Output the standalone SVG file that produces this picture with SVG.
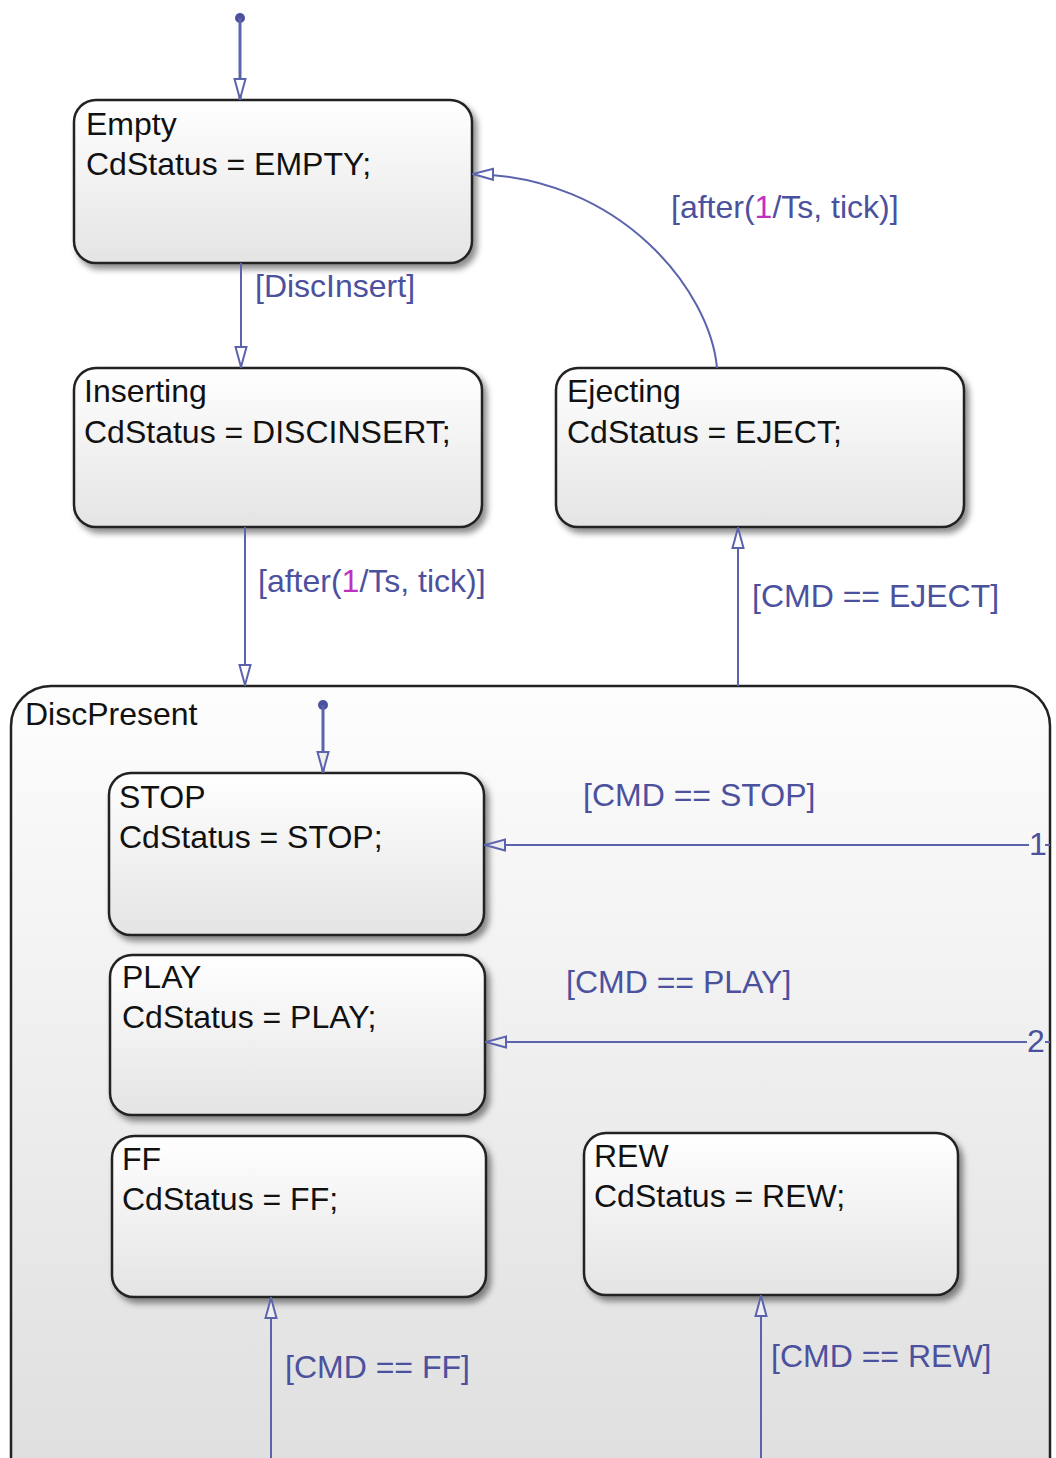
<svg xmlns="http://www.w3.org/2000/svg" width="1056" height="1458" viewBox="0 0 1056 1458">
<defs>
  <linearGradient id="boxGrad" x1="0" y1="0" x2="0" y2="1">
    <stop offset="0" stop-color="#ffffff"/>
    <stop offset="1" stop-color="#e4e4e4"/>
  </linearGradient>
  <linearGradient id="bigGrad" x1="0" y1="0" x2="0" y2="1">
    <stop offset="0" stop-color="#fdfdfd"/>
    <stop offset="1" stop-color="#dcdcdc"/>
  </linearGradient>
  <filter id="shadow" x="-10%" y="-10%" width="125%" height="130%">
    <feDropShadow dx="4" dy="5" stdDeviation="3" flood-color="#000" flood-opacity="0.45"/>
  </filter>
  <marker id="arrW" viewBox="0 0 22 14" refX="22" refY="7" markerWidth="22" markerHeight="14" markerUnits="userSpaceOnUse" orient="auto">
    <path d="M1,1.5 L21,7 L1,12.5 Z" fill="#ffffff" stroke="#5b63ad" stroke-width="2"/>
  </marker>
  <marker id="arrG" viewBox="0 0 22 14" refX="22" refY="7" markerWidth="22" markerHeight="14" markerUnits="userSpaceOnUse" orient="auto">
    <path d="M1,1.5 L21,7 L1,12.5 Z" fill="#efefef" stroke="#5b63ad" stroke-width="2"/>
  </marker>
</defs>
<style>
  .box { fill: url(#boxGrad); stroke: #222; stroke-width: 2.5; filter: url(#shadow); }
  .big { fill: url(#bigGrad); stroke: #222; stroke-width: 2.5; }
  .st { font-family: "Liberation Sans", Arial, sans-serif; font-size: 32px; fill: #111; }
  .lb { font-family: "Liberation Sans", Arial, sans-serif; font-size: 32px; fill: #4c519e; }
  .num { fill: #c030c0; }
  .ln { fill: none; stroke: #5b63ad; stroke-width: 2; }
  .init { fill: none; stroke: #5b63ad; stroke-width: 3; }
  .dot { fill: #4c519e; }
</style>
<rect width="1056" height="1458" fill="#ffffff"/>

<g id="DiscPresent">
  <rect class="big" x="11" y="686" width="1039" height="860" rx="40" ry="40"/>
  <text class="st" x="25" y="725">DiscPresent</text>
</g>

<g id="Empty">
  <rect class="box" x="74" y="100" width="398" height="163" rx="22" ry="22"/>
  <text class="st" x="86" y="135">Empty</text>
  <text class="st" x="86" y="175">CdStatus = EMPTY;</text>
</g>

<g id="Inserting">
  <rect class="box" x="74" y="368" width="408" height="159" rx="22" ry="22"/>
  <text class="st" x="84" y="402">Inserting</text>
  <text class="st" x="84" y="443">CdStatus = DISCINSERT;</text>
</g>

<g id="Ejecting">
  <rect class="box" x="556" y="368" width="408" height="159" rx="22" ry="22"/>
  <text class="st" x="567" y="402">Ejecting</text>
  <text class="st" x="567" y="443">CdStatus = EJECT;</text>
</g>

<g id="STOP">
  <rect class="box" x="109" y="773" width="375" height="162" rx="22" ry="22"/>
  <text class="st" x="119" y="808">STOP</text>
  <text class="st" x="119" y="848">CdStatus = STOP;</text>
</g>

<g id="PLAY">
  <rect class="box" x="110" y="955" width="375" height="160" rx="22" ry="22"/>
  <text class="st" x="122" y="988">PLAY</text>
  <text class="st" x="122" y="1028">CdStatus = PLAY;</text>
</g>

<g id="FF">
  <rect class="box" x="112" y="1136" width="374" height="161" rx="22" ry="22"/>
  <text class="st" x="122" y="1170">FF</text>
  <text class="st" x="122" y="1210">CdStatus = FF;</text>
</g>

<g id="REW">
  <rect class="box" x="584" y="1133" width="374" height="162" rx="22" ry="22"/>
  <text class="st" x="594" y="1167">REW</text>
  <text class="st" x="594" y="1207">CdStatus = REW;</text>
</g>

<g id="connectors">
  <!-- default transition to Empty -->
  <circle class="dot" cx="240" cy="18" r="5"/>
  <path class="init" d="M240,18 L240,100" marker-end="url(#arrW)"/>

  <!-- Empty -> Inserting -->
  <path class="ln" d="M241,263 L241,368" marker-end="url(#arrW)"/>
  <text class="lb" x="255" y="297">[DiscInsert]</text>

  <!-- Inserting -> DiscPresent -->
  <path class="ln" d="M245,527 L245,686" marker-end="url(#arrW)"/>
  <text class="lb" x="258" y="592">[after(<tspan class="num">1</tspan>/Ts, tick)]</text>

  <!-- Ejecting -> Empty -->
  <path class="ln" d="M717,368 C710,290 620,176 472,174" marker-end="url(#arrW)"/>
  <text class="lb" x="671" y="218">[after(<tspan class="num">1</tspan>/Ts, tick)]</text>

  <!-- DiscPresent -> Ejecting -->
  <path class="ln" d="M738,686 L738,527" marker-end="url(#arrW)"/>
  <text class="lb" x="752" y="607">[CMD == EJECT]</text>

  <!-- default transition to STOP -->
  <circle class="dot" cx="323" cy="705" r="5"/>
  <path class="init" d="M323,705 L323,773" marker-end="url(#arrG)"/>

  <!-- 1 -> STOP -->
  <path class="ln" d="M1029,845 L484,845" marker-end="url(#arrG)"/>
  <path class="ln" d="M1045,845 L1050,845"/>
  <text class="lb" x="1029" y="855" font-size="28">1</text>
  <text class="lb" x="583" y="806">[CMD == STOP]</text>

  <!-- 2 -> PLAY -->
  <path class="ln" d="M1027,1042 L485,1042" marker-end="url(#arrG)"/>
  <path class="ln" d="M1045,1042 L1050,1042"/>
  <text class="lb" x="1027" y="1052" font-size="28">2</text>
  <text class="lb" x="566" y="993">[CMD == PLAY]</text>

  <!-- -> FF -->
  <path class="ln" d="M271,1458 L271,1297" marker-end="url(#arrG)"/>
  <text class="lb" x="285" y="1378">[CMD == FF]</text>

  <!-- -> REW -->
  <path class="ln" d="M761,1458 L761,1295" marker-end="url(#arrG)"/>
  <text class="lb" x="771" y="1367">[CMD == REW]</text>
</g>
</svg>
